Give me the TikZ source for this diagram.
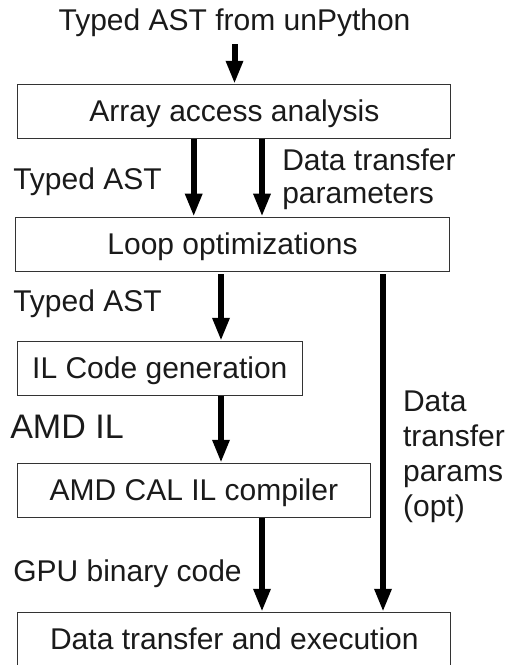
\documentclass[tikz,border=0pt]{standalone}
\usepackage{fontspec}
\setmainfont{Liberation Sans}
\usetikzlibrary{arrows.meta, positioning, calc}
\definecolor{boxborder}{HTML}{333333}
\definecolor{labeltext}{HTML}{1A1A1A}

\begin{document}
\begin{tikzpicture}[
      phase/.style={draw=boxborder, line width=0.7pt, minimum height=1.35cm,
        inner sep=0pt, text=labeltext, text height=15.4pt, text depth=1.1pt},
      note/.style={inner sep=0pt, text=labeltext, align=left},
      flow/.style={-{Triangle[length=0.575cm, width=0.4cm]}, line width=4.27pt},
      font=\fontsize{21.34pt}{23.5pt}\selectfont
    ]
      \useasboundingbox (0,0) rectangle (12.8,-16.625);
      % arrow columns
      \coordinate (colA) at (4.8425,0);
      \coordinate (colB) at (6.55,0);
      \coordinate (colC) at (5.525,0);
      \coordinate (colD) at (9.575,0);
      \node[phase, minimum width=10.83cm] (access) at (5.859,-2.783) {Array access analysis};
      \node[phase, minimum width=10.83cm] (loops) at (5.8125,-6.104) {Loop optimizations};
      \node[phase, minimum width=7.11cm] (ilgen) at (3.996,-9.209) {IL Code generation};
      \node[phase, minimum width=8.81cm] (cal) at (4.846,-12.258) {AMD CAL IL compiler};
      \node[phase, minimum width=10.83cm] (exec) at (5.859,-15.983) {Data transfer and execution};
      % labels
      \node[note, anchor=base] (source) at (5.8625,-0.75) {Typed AST from unPython};
      \node[note, anchor=base west] (ast1) at (0.325,-4.7375) {Typed AST};
      \node[note, anchor=north west] (params1) at (7.05,-3.71) {Data transfer\\parameters};
      \node[note, anchor=base west] (ast2) at (0.325,-7.7925) {Typed AST};
      \node[note, anchor=base west, font=\fontsize{24.2pt}{25pt}\selectfont] (amdil) at (0.25,-10.9575) {AMD IL};
      \node[note, anchor=base west] (gpubin) at (0.325,-14.5425) {GPU binary code};
      \node[note, anchor=north west, font=\fontsize{21.34pt}{24.9pt}\selectfont] (params2) at (10.07,-9.76) {Data\\transfer\\params\\(opt)};
      % connectors
      \draw[flow] ([yshift=-0.35cm]source.base) -- (access.north -| source.base);
      \draw[flow] (access.south -| colA) -- (loops.north -| colA);
      \draw[flow] (access.south -| colB) -- (loops.north -| colB);
      \draw[flow, shorten <=2pt] (loops.south -| colC) -- (ilgen.north -| colC);
      \draw[flow] (ilgen.south -| colC) -- (cal.north -| colC);
      \draw[flow] (cal.south -| colB) -- (exec.north -| colB);
      \draw[flow, shorten <=2pt] (loops.south -| colD) -- (exec.north -| colD);
    \end{tikzpicture}
\end{document}
